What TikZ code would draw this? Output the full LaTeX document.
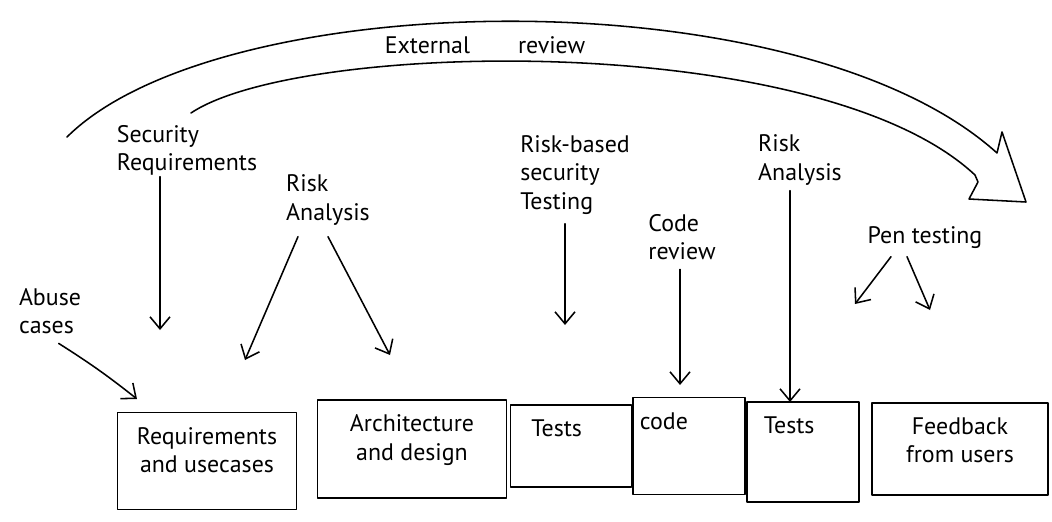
\documentclass[tikz,border=0pt]{standalone}
\usepackage{fontspec}
\setmainfont{PT Sans}
\usetikzlibrary{arrows.meta}
\tikzset{
  ink/.style={line width=1.1pt, line cap=round, line join=round},
  arr/.style={ink, -{Straight Barb[length=3mm,width=5mm]}},
  note/.style={align=left, inner sep=1pt, font=\fontsize{17}{20}\selectfont},
  phase/.style={draw, ink, inner sep=0pt},
  phasetext/.style={note, align=center, anchor=north, yshift=-0.35cm},
}
\begin{document}
\begin{tikzpicture}[x=0.025cm, y=-0.025cm]
      \useasboundingbox (0,0) rectangle (1052,521);
      % external review arc
      \draw[ink] (67,137) .. controls (220,-15) and (800,-25) .. (997,153)
        -- (1002,132) -- (1026,202) -- (969,199) -- (978,182) -- (975,175)
        .. controls (820,30) and (300,40) .. (191,113);
      \node[note] (ext) at (485,45) {External\hspace{1.2cm}review};
      % phases
      \node[phase, minimum width=4.475cm, minimum height=2.425cm] (b1) at (207,461) {};
      \node[phase, minimum width=4.725cm, minimum height=2.45cm] (b2) at (412,449) {};
      \node[phase, minimum width=3.025cm, minimum height=2.05cm] (b3) at (571,446) {};
      \node[phase, minimum width=2.8cm, minimum height=2.425cm] (b4) at (689,446) {};
      \node[phase, minimum width=2.8cm, minimum height=2.5cm] (b5) at (803,452) {};
      \node[phase, minimum width=4.4cm, minimum height=2.3cm] (b6) at (960,449) {};
      \node[phasetext] (t1) at (b1.north) {Requirements\\and usecases};
      \node[phasetext] (t2) at (b2.north) {Architecture\\and design};
      \node[phasetext, anchor=north west, xshift=0.5cm] (t3) at (b3.north west) {Tests};
      \node[phasetext, anchor=north west, xshift=0.15cm] (t4) at (b4.north west) {code};
      \node[phasetext, anchor=north west, xshift=0.4cm] (t5) at (b5.north west) {Tests};
      \node[phasetext] (t6) at (b6.north) {Feedback\\from users};
      % touchpoints
      \node[note] (abuse) at (50,311) {Abuse\\cases};
      \node[note] (secreq) at (187,150) {Security\\Requirements};
      \node[note] (risk1) at (328,200) {Risk\\Analysis};
      \node[note] (rbst) at (575,175) {Risk-based\\security\\Testing};
      \node[note] (codrev) at (682,237) {Code\\review};
      \node[note] (risk2) at (800,160) {Risk\\Analysis};
      \node[note] (pentest) at (925,238) {Pen testing};
      \coordinate (abtip) at (137,399);
      \coordinate (srtip) at (160,330);
      \coordinate (r1left) at (245,360);
      \coordinate (r1right) at (390,355);
      \coordinate (rbtip) at (565,325);
      \coordinate (crtip) at (680,385);
      \coordinate (r2tip) at (790,402);
      \coordinate (ptleft) at (855,304);
      \coordinate (ptright) at (930,310);
      \draw[arr] ([xshift=-0.6cm,yshift=-0.2cm]abuse.south east) to[bend left=3] (abtip);
      \draw[arr] (secreq.south -| srtip) -- (srtip);
      \draw[arr] ([xshift=-0.75cm,yshift=-0.25cm]risk1.south) -- (r1left);
      \draw[arr] ([yshift=-0.25cm]risk1.south) -- (r1right);
      \draw[arr] ([yshift=-0.2cm]rbst.south -| rbtip) -- (rbtip);
      \draw[arr] ([yshift=-0.2cm]codrev.south -| crtip) -- (crtip);
      \draw[arr] ([yshift=-0.1cm]risk2.south -| r2tip) -- (r2tip);
      \draw[arr] ([xshift=-0.85cm,yshift=-0.15cm]pentest.south) -- (ptleft);
      \draw[arr] ([xshift=-0.45cm,yshift=-0.15cm]pentest.south) -- (ptright);
\end{tikzpicture}
\end{document}
